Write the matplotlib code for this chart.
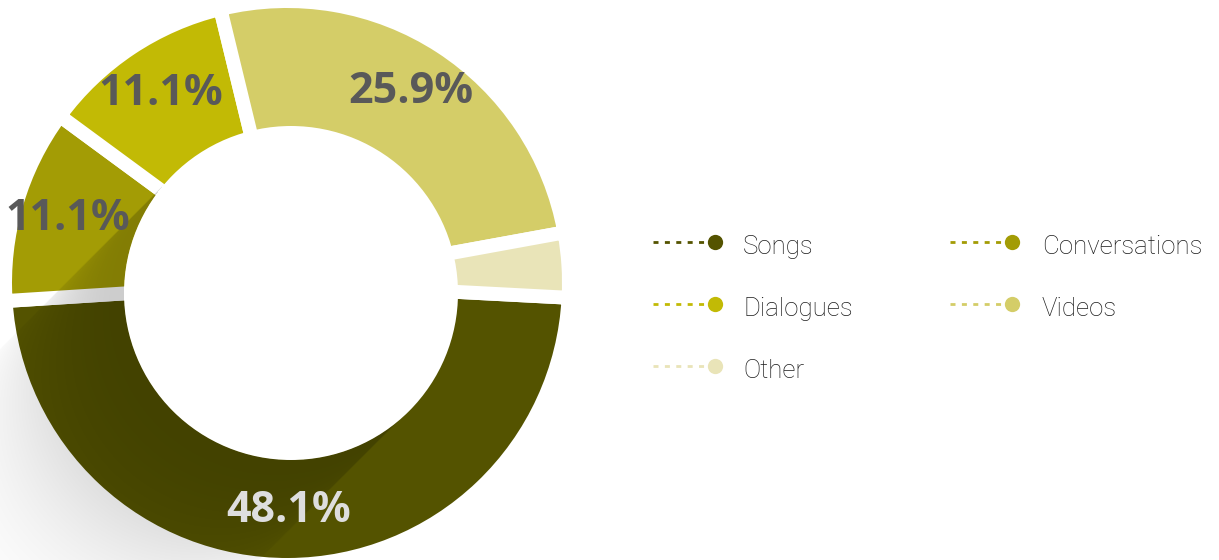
import numpy as np
import matplotlib
matplotlib.use("Agg")
import matplotlib.pyplot as plt
from matplotlib.patches import Circle

# Content mix data
categories = ["Songs", "Conversations", "Dialogues", "Videos", "Other"]
counts = [13, 3, 3, 7, 1]
colors = ["#545300", "#a39c05", "#c2ba05", "#d4cd68", "#e9e4b8"]

W, H = 1219, 560
plt.rcParams["lines.scale_dashes"] = False

fig = plt.figure(figsize=(W / 100, H / 100), dpi=100)
ax = fig.add_axes([0, 0, 1, 1])

# Donut geometry (pixel units, y measured upward)
cx, cy, r_out = 287, H - 283, 275
hx, hy, r_in = 291, H - 293, 167
gap = 10  # white separator width in points
gap_px = gap * 100 / 72


def pct_label(p):
    return f"{p:.1f}%" if p >= 5 else ""


wedges, texts, autotexts = ax.pie(
    counts,
    colors=colors,
    startangle=-3,
    counterclock=False,
    center=(cx, cy),
    radius=r_out + gap_px / 2,
    wedgeprops=dict(edgecolor="white", linewidth=gap),
    autopct=pct_label,
    pctdistance=228 / (r_out + gap_px / 2),
    frame=True,
    textprops=dict(family="Open Sans", fontweight="bold", fontsize=31,
                   color="#595959", zorder=6),
)
for w in wedges:
    w.set_zorder(1)
autotexts[0].set_color("#dedede")

# Long diagonal shadow cast from the hole toward the lower left
xs = np.arange(W) + 0.5
ys = np.arange(H) + 0.5
X, Y = np.meshgrid(xs, ys)
hcx, hcy = hx, H - hy
dx, dy = X - hcx, Y - hcy
u = (-dx + dy) / np.sqrt(2)
v = (dx + dy) / np.sqrt(2)
inside = np.clip(r_in ** 2 - v ** 2, 0, None)
s = u - np.sqrt(inside)
edge = np.clip((r_in - np.abs(v)) / 1.5, 0, 1)
alpha = np.where((s > 0), 0.2 * np.exp(-(s / 151.0) ** 2), 0) * edge
shade = np.zeros((H, W, 4))
shade[..., 3] = alpha
ax.imshow(shade, extent=(0, W, 0, H), origin="upper", zorder=2,
          interpolation="bilinear")

ax.add_patch(Circle((hx, hy), r_in, facecolor="white", edgecolor="none",
                    zorder=3))

# Legend: two columns, row-major order
col_x = [715, 1012]
row_y = [242, 304, 366]
for i, (name, col) in enumerate(zip(categories, colors)):
    mx = col_x[i % 2]
    my = H - row_y[i // 2]
    ax.plot([mx - 62, mx - 8], [my, my], color=col, lw=2,
            dashes=(3.6, 4.6), solid_capstyle="butt", zorder=4)
    ax.plot([mx], [my], marker="o", ms=11, color=col, mec="none", zorder=5)
    ax.text(mx + 28 + 2 * (i % 2), my - 5, name, family="Roboto",
            fontweight="light", fontsize=18.6, color="#1c1c1c",
            va="center", ha="left", zorder=5)

ax.set_xlim(0, W)
ax.set_ylim(0, H)
ax.set_aspect("auto")
ax.axis("off")

fig.savefig("out.png", dpi=100, facecolor="white")
